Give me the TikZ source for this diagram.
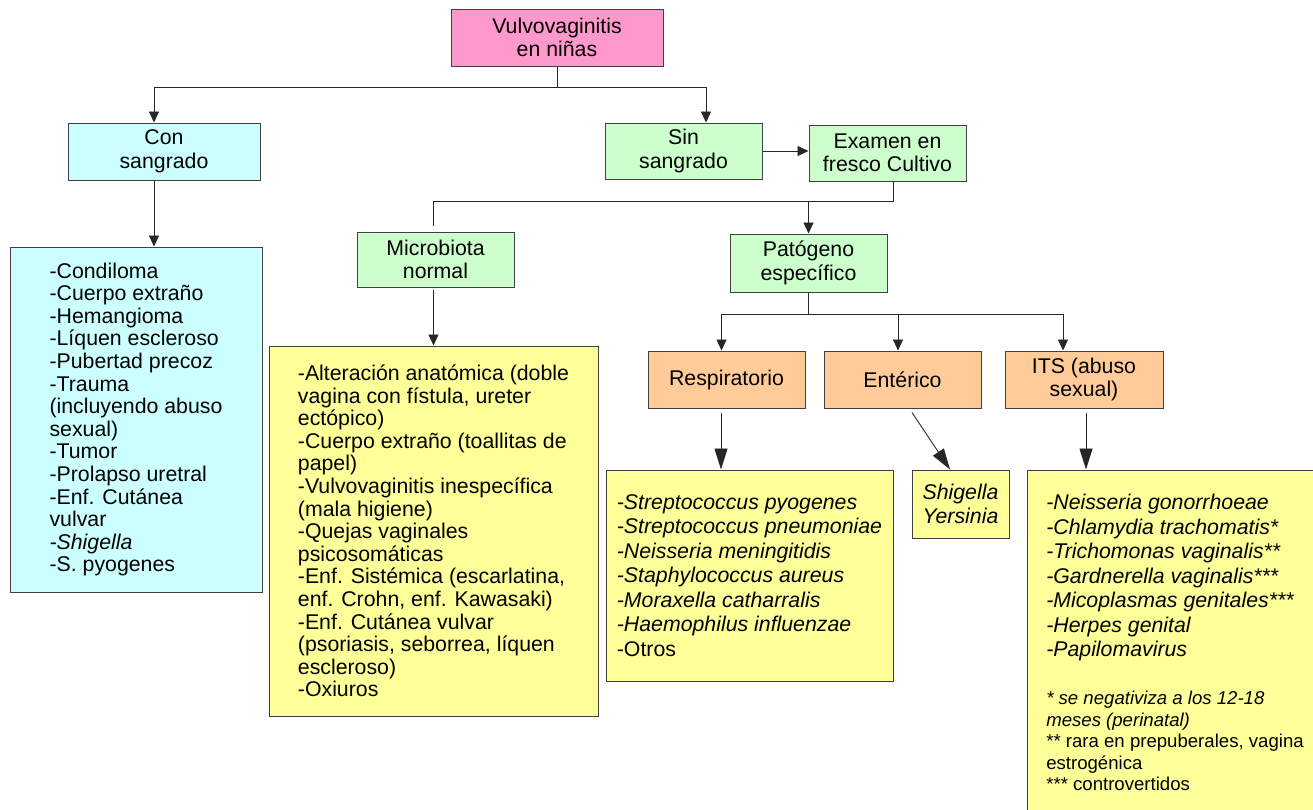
\documentclass[tikz,border=0pt]{standalone}
\usepackage{fontspec}
\setmainfont{Liberation Sans}
\usetikzlibrary{arrows.meta}

\definecolor{rosa}{HTML}{FF99CC}
\definecolor{celeste}{HTML}{CCFFFF}
\definecolor{verde}{HTML}{CCFFCC}
\definecolor{naranja}{HTML}{FFCC99}
\definecolor{amarillo}{HTML}{FFFF99}
\newcommand{\fnote}{\fontsize{18.6}{21.5}\selectfont}

\begin{document}
\begin{tikzpicture}[x=1pt,y=-1pt,
  box/.style={draw=black!75,line width=1pt,inner sep=0pt,align=center,
    font=\fontsize{21.3}{23.5}\selectfont},
  listbox/.style={box,align=left,font=\fontsize{21.3}{22.6}\selectfont},
  widelist/.style={box,align=left,font=\fontsize{21.3}{24.5}\selectfont},
  link/.style={draw=black!85,line width=0.9pt},
  arr/.style={link,-{Triangle[length=11pt,width=10pt]}},
  bigarr/.style={link,-{Triangle[length=21pt,width=13pt]}}]
\path[use as bounding box,clip] (0,0) rectangle (1313,809);

\node[box,fill=rosa,minimum width=212pt,minimum height=57pt] (root) at (557,37.5) {Vulvovaginitis\\en niñas};
\node[box,fill=celeste,minimum width=192pt,minimum height=57pt] (con) at (164,151.5) {Con\\sangrado};
\node[box,fill=verde,minimum width=157pt,minimum height=56pt] (sin) at (683.5,151) {Sin\\sangrado};
\node[box,fill=verde,minimum width=157pt,minimum height=56pt] (exam) at (887.5,153) {Examen en\\fresco Cultivo};
\node[box,fill=verde,minimum width=157pt,minimum height=55pt] (micro) at (435.5,259.5) {Microbiota\\normal};
\node[box,fill=verde,minimum width=157pt,minimum height=58pt] (pato) at (808.5,263) {Patógeno\\específico};
\node[box,fill=naranja,minimum width=157pt,minimum height=57pt] (resp) at (726.5,379.5) {Respiratorio};
\node[box,fill=naranja,minimum width=157pt,minimum height=57pt] (enter) at (902.5,379.5) {Entérico};
\node[box,fill=naranja,minimum width=158pt,minimum height=57pt] (its) at (1084,379.5) {ITS (abuso\\sexual)};

\node[listbox,fill=celeste,minimum width=252pt,minimum height=345pt] (bleed) at (136,419.5)
  {-Condiloma\\-Cuerpo extraño\\-Hemangioma\\-Líquen escleroso\\-Pubertad precoz\\-Trauma\\(incluyendo abuso\\sexual)\\-Tumor\\-Prolapso uretral\\-Enf. Cutánea\\vulvar\\\textit{-Shigella}\\-S. pyogenes};
\node[listbox,fill=amarillo,minimum width=329pt,minimum height=370pt] (microlist) at (433.5,531)
  {-Alteración anatómica (doble\\vagina con fístula, ureter\\ectópico)\\-Cuerpo extraño (toallitas de\\papel)\\-Vulvovaginitis inespecífica\\(mala higiene)\\-Quejas vaginales\\psicosomáticas\\-Enf. Sistémica (escarlatina,\\enf. Crohn, enf. Kawasaki)\\-Enf. Cutánea vulvar\\(psoriasis, seborrea, líquen\\escleroso)\\-Oxiuros};
\node[widelist,fill=amarillo,minimum width=287pt,minimum height=211pt] (resplist) at (749.5,575.5)
  {\textit{-Streptococcus pyogenes}\\\textit{-Streptococcus pneumoniae}\\\textit{-Neisseria meningitidis}\\\textit{-Staphylococcus aureus}\\\textit{-Moraxella catharralis}\\\textit{-Haemophilus influenzae}\\-Otros};
\node[widelist,fill=amarillo,minimum width=97pt,minimum height=68pt] (shig) at (960.5,504)
  {\textit{Shigella}\\\textit{Yersinia}};
\node[widelist,fill=amarillo,minimum width=296pt,minimum height=345pt] (itslist) at (1175,642.5)
  {\textit{-Neisseria gonorrhoeae}\\\textit{-Chlamydia trachomatis*}\\\textit{-Trichomonas vaginalis**}\\\textit{-Gardnerella vaginalis***}\\\textit{-Micoplasmas genitales***}\\\textit{-Herpes genital}\\\textit{-Papilomavirus}\\[23.5pt]
  \fnote\textit{* se negativiza a los 12-18}\\[-3pt]\fnote\textit{meses (perinatal)}\\[-3pt]\fnote ** rara en prepuberales, vagina\\[-3pt]\fnote estrogénica\\[-3pt]\fnote *** controvertidos};

\draw[arr] (root.south) -- ++(0,21) -| ([xshift=-10pt]con.north);
\draw[arr] (root.south) ++(0,21) -| ([xshift=22.5pt]sin.north);
\draw[arr] ([xshift=-10pt]con.south) -- ([xshift=-10pt]con.south |- bleed.north);
\draw[arr] (sin.east) -- (sin.east -| exam.west);
\coordinate (split) at ([xshift=5.5pt,yshift=-20pt]exam.south);
\draw[link] ([xshift=5.5pt]exam.south) -- (split) -| ([xshift=-2.5pt,yshift=6pt]micro.north);
\draw[arr] (split -| pato.north) -- (pato.north);
\draw[arr] ([yshift=-2pt]micro.south -| microlist.north) -- (microlist.north);
\draw[link] (pato.south) -- ++(0,22) coordinate (tri);
\draw[arr] (tri) -| ([xshift=-5pt]resp.north);
\draw[arr] (tri) -| ([xshift=-4.5pt]enter.north);
\draw[arr] (tri) -| ([xshift=-21pt]its.north);
\draw[bigarr] ([xshift=-5.5pt,yshift=-4pt]resp.south) -- ([xshift=-5.5pt]resp.south |- resplist.north);
\draw[bigarr] ([xshift=9.5pt,yshift=-4pt]enter.south) -- ([xshift=-10.5pt]shig.north);
\draw[bigarr] ([xshift=2pt,yshift=-4pt]its.south) -- ([xshift=2pt]its.south |- itslist.north);
\end{tikzpicture}
\end{document}
